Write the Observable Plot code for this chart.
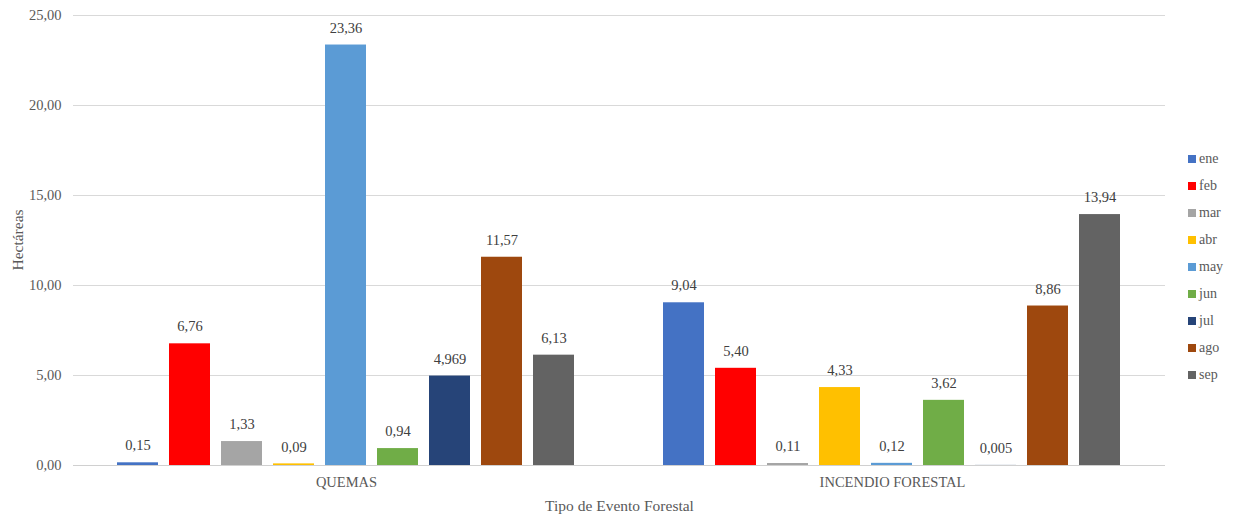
<!DOCTYPE html>
<html>
<head>
<meta charset="utf-8">
<script src="https://cdn.jsdelivr.net/npm/d3@7"></script>
<script src="https://cdn.jsdelivr.net/npm/@observablehq/plot@0.6"></script>
<style>
  html, body { margin: 0; padding: 0; background: #fff; }
  #wrap { position: relative; width: 1234px; height: 519px; font-family: "Liberation Serif", "Times New Roman", serif; }
  #legend { position: absolute; left: 1188px; top: 146px; display: flex; flex-direction: column; gap: 0; }
  .item { display: flex; align-items: center; height: 26.9px; font-size: 14px; color: #595959; }
  .sw { width: 8px; height: 8px; margin-right: 3px; }
  #ylab { position: absolute; left: 18px; top: 240px; transform: translate(-50%, -50%) rotate(-90deg); font-size: 15.5px; color: #595959; white-space: nowrap; }
</style>
</head>
<body>
<div id="wrap"><div id="chart"></div><div id="legend"></div><div id="ylab">Hectáreas</div></div>
<script>
const events = ["QUEMAS", "INCENDIO FORESTAL"];
const months = ["ene", "feb", "mar", "abr", "may", "jun", "jul", "ago", "sep"];
const colors = ["#4472C4", "#FF0000", "#A5A5A5", "#FFC000", "#5B9BD5", "#70AD47", "#264478", "#9E480E", "#636363"];
const quemas = [0.15, 6.76, 1.33, 0.09, 23.36, 0.94, 4.969, 11.57, 6.13];
const incendio = [9.04, 5.40, 0.11, 4.33, 0.12, 3.62, 0.005, 8.86, 13.94];
const yTicks = [0, 5, 10, 15, 20, 25];

const data = [];
months.forEach((m, i) => {
  data.push({event: events[0], month: m, value: quemas[i]});
  data.push({event: events[1], month: m, value: incendio[i]});
});

const fmt = v => {
  const dec = Math.abs(Math.round(v * 100) - v * 100) > 1e-6 ? 3 : 2;
  return v.toFixed(dec).replace(".", ",");
};

const chart = Plot.plot({
  width: 1234,
  height: 519,
  marginLeft: 73,
  marginRight: 69,
  marginTop: 15,
  marginBottom: 54,
  style: {fontFamily: "'Liberation Serif', 'Times New Roman', serif", fontSize: "14.5px", color: "#595959", background: "#fff"},
  fx: {domain: events, padding: 0},
  x: {domain: months, paddingInner: 0.21, paddingOuter: 0.855, axis: null},
  y: {domain: [0, 25]},
  color: {domain: months, range: colors},
  marks: [
    Plot.gridY(yTicks, {stroke: "#d9d9d9", strokeOpacity: 1, strokeWidth: 1}),
    Plot.axisY(yTicks, {tickSize: 0, tickPadding: 12, tickFormat: d => d.toFixed(2).replace(".", ","), label: null, fill: "#595959", fontSize: 14.5}),
    Plot.axisFx({anchor: "bottom", tickSize: 0, tickPadding: 11, label: null, fill: "#595959", fontSize: 14.5}),
    Plot.axisFx({anchor: "bottom", tickSize: 0, ticks: [], label: "Tipo de Evento Forestal", labelAnchor: "center", labelOffset: 45, fill: "#595959", fontSize: 15.5}),
    Plot.barY(data, {fx: "event", x: "month", y: "value", fill: "month"}),
    Plot.ruleY([0], {stroke: "#d0d0d0", strokeWidth: 1.2}),
    Plot.text(data, {fx: "event", x: "month", y: "value", text: d => fmt(d.value), dy: -17, fill: "#404040", fontSize: 14.5})
  ]
});
document.getElementById("chart").appendChild(chart);

const legend = document.getElementById("legend");
months.forEach((m, i) => {
  const it = document.createElement("div");
  it.className = "item";
  it.innerHTML = `<span class="sw" style="background:${colors[i]}"></span><span>${m}</span>`;
  legend.appendChild(it);
});
</script>
</body>
</html>
